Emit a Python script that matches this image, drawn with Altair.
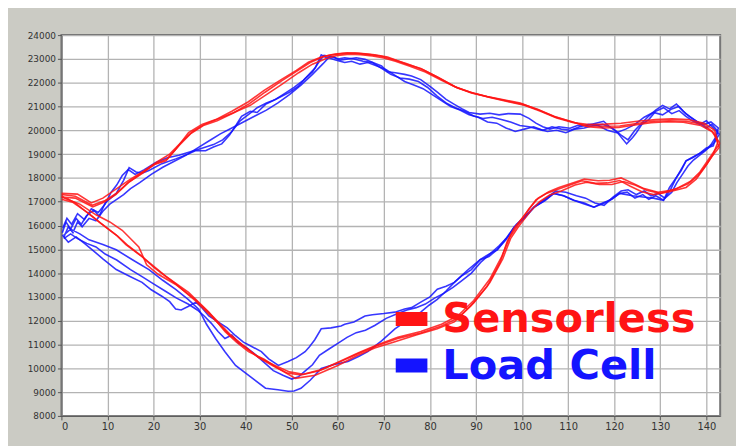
import altair as alt
import pandas as pd

# ---- data: (position, force) ----
red_c1 = [(0,17300),(3,17230),(6.7,16850),(9.5,17050),(11.9,17350),(14.5,17800),(17.5,18180),(20,18550),(22.7,18720),(25,19250),(27.6,19900),(30.5,20250),(33.5,20450),(37,20800),(40.6,21200),(44,21680),(47.7,22130),(51,22520),(53.6,22860),(56.4,23080),(58.5,23170),(61,23230),(63.7,23250),(66,23210),(68,23170),(70.8,23080),(72.4,22960),(75,22780),(78,22600),(81.5,22250),(85.3,21840),(88.8,21600),(92.4,21420),(96,21280),(99.6,21150),(103,20900),(106.9,20590),(110.4,20380),(114,20180),(117.7,20170),(121.2,20180),(124.8,20290),(128.5,20380),(132,20400),(135.6,20380),(139.3,20260),(141.6,19900),(142.8,19280),
          (141.2,18900),(139.5,18400),(137.8,17950),(135.6,17600),(132,17420),(128.5,17300),(126,17420),(123.5,17650),(121.2,17890),(118.5,17790),(116,17770),(113,17880),(110.4,17700),(107.5,17500),(105.4,17360),(103,17080),(101,16550),(98.3,15900),(96.8,15350),(95.2,14440),(92.4,13440),(88.8,12610),(85.3,11950),(81.6,11660),(77,11400),(72.4,11120),(68,10850),(64,10520),(60,10120),(55.1,9710),(50.8,9580),(47.1,9990),(44,10380),(40.6,10700),(38,11100),(35.6,11530),(32,12360),(27.6,13190),(22.7,13860),(17.5,14690),(14,15200),(11.9,15600),(8.5,16100),(6,16500),(2.4,16980),(0,17100)]
red_c2 = [(0,17350),(3.5,17320),(6.5,16950),(9,17150),(12,17550),(15,17950),(18,18300),(21,18700),(23.5,19000),(26,19500),(28.5,19950),(31,20250),(34,20480),(37.5,20750),(41,21050),(44.5,21500),(48,21950),(51.5,22420),(54.5,22780),(57.5,23020),(60,23150),(62.5,23200),(65,23180),(67.5,23120),(70,23040),(72.5,22900),(75.5,22700),(79,22450),(82.5,22100),(86,21780),(89.5,21560),(93,21380),(97,21200),(100.5,21050),(104,20800),(107.5,20520),(111,20330),(114.5,20240),(118,20260),(121.5,20300),(125,20380),(129,20450),(132.5,20480),(136,20450),(139.5,20300),(141.8,20000),(142.5,19500),
          (141.5,19000),(140,18550),(138.2,18100),(136,17750),(133,17500),(129.5,17400),(126.5,17550),(124,17780),(121.5,18000),(119,17900),(116.5,17880),(113.5,17950),(110.8,17780),(108,17600),(105.8,17420),(103.5,17150),(101.5,16700),(99,16000),(97.3,15500),(95.6,14700),(93,13750),(89.5,12850),(86,12200),(82.5,11850),(78,11550),(73,11300),(68.5,10980),(64.5,10650),(60.5,10300),(56.5,9950),(52.5,9750),(49.5,9850),(46,10150),(42.5,10500),(39.5,10950),(36.5,11450),(33,12150),(29,12900),(25,13500),(21,13950),(18.5,14350),(16.8,15100),(13.2,15800),(10.5,16150),(7.5,16450),(4,16900),(0,17200)]
red_c3 = [(0,17200),(3,17150),(6.8,16780),(9.2,16980),(11.8,17300),(14.8,17850),(17.8,18250),(20.5,18600),(23,18800),(25.5,19350),(28,19850),(30.8,20200),(33.8,20400),(37.2,20720),(40.8,21120),(44.2,21600),(47.8,22080),(51.2,22500),(54,22850),(57,23100),(59.5,23200),(62,23260),(64.5,23240),(67,23180),(69.5,23110),(72,22980),(75,22800),(78.5,22550),(82,22200),(85.8,21800),(89,21570),(92.8,21400),(96.5,21240),(100,21100),(103.5,20870),(107.2,20560),(110.8,20360),(114.2,20150),(117.5,20100),(121,20120),(124.5,20220),(128,20320),(131.5,20360),(135,20340),(138.8,20200),(141.2,19950),(143,19450),
          (141.8,19150),(140.2,18700),(138.6,18250),(136.5,17850),(133.5,17550),(130,17350),(127,17480),(124.5,17700),(122,17850),(119.5,17720),(116.8,17720),(114,17820),(111.5,17700),(108.5,17450),(106,17280),(103.8,17000),(101.8,16600),(99.2,15950),(97.5,15450),(95.8,14600),(93,13600),(89.5,12750),(86,12100),(82.5,11780),(78,11480),(73,11250),(68.5,10950),(64.2,10600),(60.2,10250),(56,9900),(52,9720),(49,9800),(46,10100),(42.8,10450),(39.8,10900),(36.8,11350),(33.2,12050),(29,12850),(24.8,13550),(20,14250),(17.2,14750),(14.5,15150),(12.2,15550),(9.5,15950),(6.5,16400),(3,16950),(0,17250)]

blue_c1 = [(0.2,15700),(1,16150),(2,15850),(3.2,16300),(4.3,16050),(5.4,16400),(7,16650),(8.2,16400),(9.5,16950),(11.9,17350),(13.5,17900),(14.7,18430),(16.2,18250),(17.5,18200),(19,18310),(21.8,18600),(24.8,18800),(27.6,19010),(29.2,19150),(31.3,19140),(33,19300),(34.8,19430),(36.5,19800),(38,20250),(39.1,20590),(41,20800),(42.5,20750),(44.3,21090),(46,21250),(47.7,21420),(49.5,21600),(51.4,21840),(53,22200),(55.1,22630),(56.4,23170),(57.5,23050),(59,23100),(60.5,22950),(62.2,23000),(64,23050),(65.9,22980),(68,22820),(69.5,22700),(70.8,22460),(72.5,22420),(74.5,22350),(76,22280),(78,22130),(80,21850),(81.6,21600),(83.5,21300),(85.3,21090),(87,20900),(88.5,20750),(90.9,20680),(93,20720),(95,20650),(97,20700),(99.6,20680),(101.5,20500),(103,20300),(104.5,20150),(106,20050),(108,20150),(110.4,20090),(112,20200),(114,20200),(116,20300),(117.7,20380),(119,20150),(120.5,19950),(122.7,19430),(124,19700),(124.8,19900),(126,20250),(127.5,20450),(129,20800),(130.7,20950),(132.5,20700),(134.1,20830),(135.5,20600),(137,20400),(138.5,20250),(140,20400),(141.5,20100),(142.8,19840),
           (141.8,19500),(140.5,19260),(139.2,19100),(138.4,19010),(137,18850),(135.6,18720),(134.5,18300),(133.5,18020),(132.2,17500),(130.7,17060),(129,17250),(127.5,17100),(126.2,17300),(124.5,17150),(122.8,17400),(121.2,17350),(119.5,17100),(117.5,16950),(115.6,16770),(113.5,16950),(111.2,17060),(109,17250),(106.9,17350),(105,17050),(102.6,16770),(100.5,16300),(98.3,15940),(96.5,15400),(94.6,14980),(92.8,14700),(90.9,14560),(89,14150),(87,13900),(85.3,13610),(83.5,13450),(81.6,13320),(80,13000),(78,12780),(76,12550),(74.5,12490),(72.4,12360),(70,12300),(67.5,12250),(65.9,12200),(63.5,11950),(61.5,11850),(60.7,11780),(58.5,11700),(56.4,11660),(55,11200),(53.8,10900),(52.9,10700),(51,10450),(49.2,10290),(47.1,10120),(45,10400),(43.4,10700),(41,10950),(39.5,11100),(37.8,11370),(36,11700),(34,11950),(32,12200),(30.5,12550),(29.2,12780),(27.5,12600),(26,12450),(24.8,12490),(23.5,12800),(21.8,13030),(19.5,13300),(17.5,13610),(15,13850),(11.9,14150),(9,14600),(6.7,14980),(5,15250),(3.2,15520),(1.5,15300),(0.2,15600)]
blue_c2 = [(0.5,15500),(1.5,15950),(2.5,15700),(3.5,16150),(4.5,15950),(6,16300),(7.5,16200),(9,16600),(10.5,16900),(12,17100),(13.5,17300),(15,17550),(17,17800),(19.5,18150),(22,18450),(24.5,18700),(27,18950),(29.5,19250),(32,19550),(34.5,19850),(37,20100),(39.5,20350),(42,20600),(44.5,20850),(47,21150),(49.5,21500),(52,21900),(54.5,22350),(56.8,22800),(58,23050),(59.5,22950),(61.5,22850),(63,22900),(64.8,22780),(66.5,22850),(68.5,22700),(70.5,22550),(72.5,22300),(74.5,22050),(76.5,21900),(78.5,21750),(80.5,21500),(82.5,21250),(84.5,21000),(86.5,20850),(88.5,20650),(90.5,20550),(92.5,20350),(94.5,20300),(96.5,20100),(98.5,19950),(100.5,20050),(102.5,20150),(104.5,20000),(106.5,20150),(108.5,20050),(110.5,20000),(112.5,20150),(114.5,20250),(116.5,20200),(118.5,20000),(120.5,19900),(122.5,20050),(124.5,20250),(126.5,20550),(128.5,20750),(130.5,20650),(132.5,20900),(134,21000),(135.5,20700),(137,20500),(138.5,20300),(140,20100),(141.2,20250),(142.5,19950),
           (141.5,19350),(140,19262),(138.4,19013),(136.8,18850),(135.6,18722),(134.5,18350),(133.5,18015),(132,17600),(130.7,17059),(128.5,17150),(126.7,17184),(124,17250),(121.2,17350),(118.5,17000),(115.6,16768),(113.5,16900),(111.2,17059),(109,17250),(106.9,17350),(104.8,17050),(102.6,16768),(100.5,16350),(98.3,15937),(96.5,15450),(94.6,14981),(92.8,14800),(90.9,14566),(88,14100),(85.3,13610),(83.5,13250),(81.6,12900),(79.8,12650),(78,12363),(75,12000),(72.4,11657),(69.5,11150),(66.5,10701),(64.5,10500),(62.2,10285),(59,10150),(56.4,9994),(54,9500),(52,9163),(50.5,9050),(49.2,9038),(47,9100),(44.3,9163),(41,9650),(37.8,10119),(35.5,10700),(33.5,11241),(31.5,11850),(29.8,12487),(27.5,12900),(24.8,13319),(22,13700),(19,14150),(15.5,14550),(11.9,14981),(9,15200),(6,15400),(4,15650),(2,15850),(0.5,15600)]
blue_c3 = [(0.3,15900),(1.2,16300),(2.2,16050),(3.5,16500),(5,16250),(6.5,16700),(8,16550),(9.5,16900),(10.8,17400),(12,17700),(13.2,18100),(14.5,18350),(16,18150),(18,18350),(20.5,18650),(23,18850),(25.5,18950),(28,19100),(30.5,19250),(33,19400),(35,19600),(37,19950),(38.8,20400),(40.5,20650),(42.5,20950),(44.5,21150),(46.5,21300),(48.5,21550),(50.5,21800),(52.5,22100),(54.5,22450),(56,22900),(57,23150),(58.5,23100),(60,23000),(61.5,23050),(63.5,23000),(65.5,22900),(67.5,22850),(69.5,22600),(71.5,22350),(73.5,22200),(75.5,22150),(77.5,22050),(79.5,21800),(81.5,21450),(83.5,21150),(85.5,20950),(87.5,20800),(89.5,20600),(91.5,20500),(93.5,20550),(95.5,20450),(97.5,20350),(99.5,20200),(101.5,20150),(103.5,20050),(105.5,19950),(107.5,20000),(109.5,19900),(111.5,20050),(113.5,20100),(115.5,20200),(117.5,20250),(119.5,20100),(121.5,19800),(123,19600),(124.5,20000),(126,20300),(127.5,20600),(129,20850),(130.5,21050),(132,20900),(133.5,21100),(135,20800),(136.5,20550),(138,20350),(139.5,20250),(141,20350),(142.6,20100),
           (142,19700),(141,19400),(139.8,19150),(138.5,18950),(137.2,18750),(136,18500),(134.8,18150),(133.6,17800),(132.5,17400),(131,17150),(129.5,17350),(128,17250),(126.5,17450),(124.8,17300),(123,17500),(121.5,17450),(119.8,17200),(117.8,16850),(115.8,16950),(113.8,17150),(111.8,17250),(109.5,17400),(107.3,17450),(105.2,17150),(103,16850),(101,16450),(98.8,16050),(97,15550),(95,15150),(93,14800),(91,14450),(89,14000),(87,13700),(85,13400),(83,13150),(81,12950),(79,12700),(77,12550),(75,12450),(73,12300),(70.5,12100),(68,11800),(66,11600),(64,11500),(62,11300),(60,11050),(58,10800),(56,10550),(54.5,10150),(53,9900),(51.5,9650),(50,9550),(48.2,9700),(46,9900),(44,10250),(42,10600),(40,10900),(38.5,11050),(37,11400),(35.5,11250),(34,11550),(32.5,11900),(31,12200),(29.5,12450),(27.5,12700),(25,12950),(22.5,13250),(20,13550),(17.5,13850),(15,14150),(12,14550),(9.5,14800),(7.5,15100),(5.5,15250),(3.5,15450),(2,15650),(0.5,15450)]

series_names = ["Sensorless", "Load Cell"]
series_colors = ["#ff1414", "#1414ff"]
x_ticks = list(range(0, 141, 10))
y_ticks = list(range(8000, 24001, 1000))

rows = []
for name, cycles in ((series_names[1], [blue_c1, blue_c2, blue_c3]),
                     (series_names[0], [red_c1, red_c2, red_c3])):
    for ci, pts in enumerate(cycles):
        for i, (x, y) in enumerate(pts):
            rows.append({"series": name, "cycle": f"{name}-{ci}", "i": i, "pos": x, "force": y})
df = pd.DataFrame(rows)

W, H = 666, 385

lines = alt.Chart(df).mark_line(strokeWidth=1.6, opacity=0.85, clip=True).encode(
    x=alt.X("pos:Q", scale=alt.Scale(domain=[0, 143], nice=False, zero=False),
            axis=alt.Axis(values=x_ticks, title=None, labelFontSize=10)),
    y=alt.Y("force:Q", scale=alt.Scale(domain=[8000, 24000], nice=False, zero=False),
            axis=alt.Axis(values=y_ticks, title=None, format="d", labelFontSize=9)),
    color=alt.Color("series:N", scale=alt.Scale(domain=series_names, range=series_colors), legend=None),
    detail="cycle:N",
    order="i:Q",
)

one = pd.DataFrame({"k": [0]})
layers = [lines]
legend_pos = [(280, 300), (327, 348)]  # (square top, text baseline) in px
for idx, name in enumerate(series_names):
    sq_top, base = legend_pos[idx]
    layers.append(alt.Chart(one).mark_rect(color=series_colors[idx]).encode(
        x=alt.value(338), x2=alt.value(370), y=alt.value(sq_top), y2=alt.value(sq_top + 14)))
    tdf = pd.DataFrame({"label": [name]})
    layers.append(alt.Chart(tdf).mark_text(align="left", baseline="alphabetic", font="DejaVu Sans",
                                           fontWeight="bold", fontSize=42, color=series_colors[idx]).encode(
        x=alt.value(385), y=alt.value(base), text="label:N"))

chart = alt.layer(*layers).properties(
    width=W, height=H, background="#cbcbc4",
    padding={"left": 54, "top": 25, "right": 16, "bottom": 28},
    autosize=alt.AutoSizeParams(type="none"),
).configure_view(
    fill="white", stroke="#777777", strokeWidth=2
).configure_axis(
    gridColor="#b3b3b3", gridWidth=1.3, domainColor="#555555", labelColor="#333333",
    tickColor="#555555", tickSize=4, labelFont="DejaVu Sans"
)

chart.save("out.html", embed_options={"renderer": "svg", "actions": False})
